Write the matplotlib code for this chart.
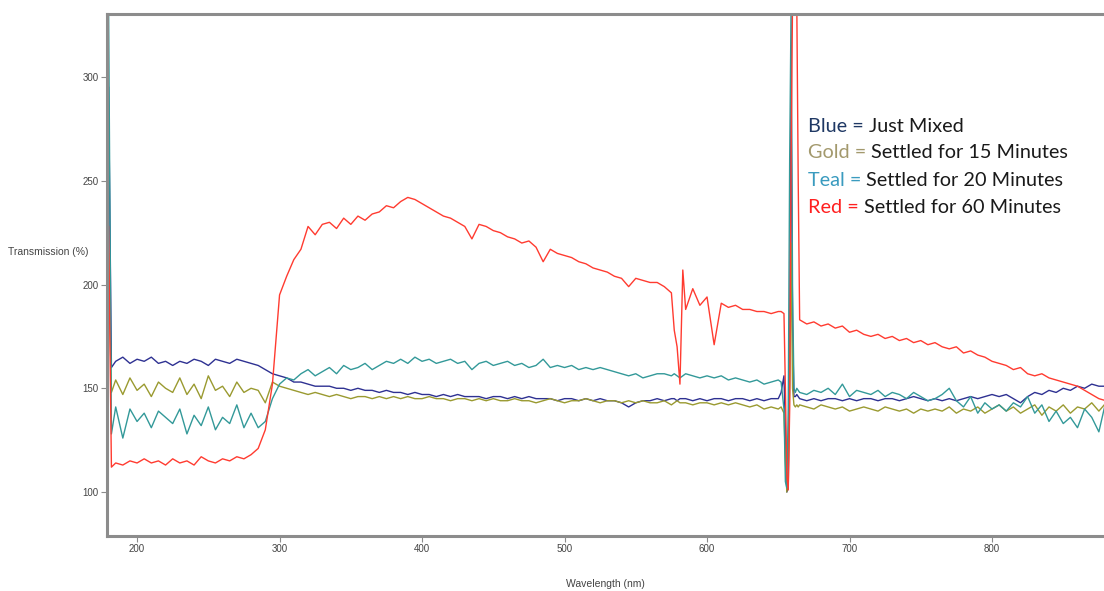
import numpy as np
import matplotlib.pyplot as plt

# wavelength grid (nm): 5 nm steps, finer around the 580 and 656 nm features
wl = np.concatenate([
    [180, 182],
    np.arange(185, 576, 5),
    [577, 579, 581, 583],
    np.arange(585, 651, 5),
    [652, 654, 655, 656, 657, 658, 659, 660, 661, 662, 663, 664],
    np.arange(665, 881, 5),
])

# transmission (%) for each settling time
blue = [
    295, 160,
    163, 165, 162, 164, 163, 165, 162, 163, 161, 163,
    162, 164, 163, 161, 164, 163, 162, 164, 163, 162,
    161, 159, 157, 156, 155, 153, 153, 152, 151, 151,
    151, 150, 150, 149, 150, 149, 149, 148, 149, 148,
    148, 147, 148, 147, 147, 146, 147, 146, 147, 146,
    146, 146, 145, 146, 146, 145, 146, 145, 146, 145,
    145, 145, 144, 145, 145, 144, 145, 144, 145, 144,
    144, 143, 141, 143, 144, 144, 145, 144, 145,
    145, 144, 145, 145,
    145, 144, 145, 144, 145, 145, 144, 145, 145, 144,
    145, 144, 145, 145,
    148, 156, 130, 100, 102, 160, 300, 180, 146, 146, 147, 146,
    145, 144, 145, 144, 145, 145, 144, 145, 144, 145,
    145, 144, 145, 145, 144, 145, 146, 145, 144, 145,
    144, 145, 144, 145, 146, 145, 146, 147, 146, 147,
    145, 143, 146, 148, 147, 149, 148, 150, 149, 151,
    150, 152, 151, 151,
]
gold = [
    215, 148,
    154, 147, 155, 149, 152, 146, 153, 150, 148, 155,
    147, 152, 145, 156, 149, 151, 146, 153, 148, 150,
    149, 143, 153, 151, 150, 149, 148, 147, 148, 147,
    146, 147, 146, 145, 146, 146, 145, 146, 145, 146,
    145, 146, 145, 145, 146, 145, 145, 144, 145, 145,
    144, 145, 144, 145, 144, 144, 145, 144, 144, 143,
    144, 145, 144, 143, 144, 144, 145, 144, 143, 144,
    144, 143, 144, 143, 144, 143, 143, 144, 142,
    143, 144, 143, 143,
    143, 142, 143, 143, 142, 143, 142, 143, 142, 141,
    142, 140, 141, 140,
    141, 138, 115, 100, 110, 150, 220, 150, 142, 141, 142, 141,
    142, 141, 140, 142, 141, 140, 141, 139, 140, 141,
    140, 139, 141, 140, 139, 140, 138, 140, 139, 140,
    139, 141, 138, 140, 139, 141, 138, 140, 142, 139,
    141, 138, 140, 142, 137, 141, 139, 142, 138, 141,
    140, 143, 139, 143,
]
teal = [
    335, 128,
    141, 126, 140, 134, 138, 131, 139, 136, 133, 140,
    128, 137, 132, 141, 130, 136, 133, 142, 131, 138,
    131, 134, 145, 152, 155, 154, 157, 159, 156, 158,
    160, 157, 161, 159, 160, 162, 159, 161, 163, 162,
    164, 162, 165, 163, 164, 162, 163, 164, 162, 163,
    159, 162, 163, 161, 162, 163, 161, 162, 160, 161,
    164, 160, 161, 160, 161, 159, 160, 159, 160, 159,
    158, 157, 156, 157, 155, 156, 157, 157, 156,
    157, 156, 155, 156,
    157, 156, 155, 156, 155, 156, 154, 155, 154, 153,
    154, 152, 153, 154,
    153, 140, 105, 102, 140, 260, 335, 200, 150, 148, 150, 149,
    148, 147, 149, 148, 150, 147, 152, 146, 149, 148,
    147, 149, 146, 148, 147, 145, 148, 146, 144, 145,
    147, 150, 144, 141, 146, 138, 143, 140, 142, 139,
    143, 141, 146, 138, 142, 134, 139, 133, 136, 131,
    140, 136, 129, 144,
]
red = [
    228, 112,
    114, 113, 115, 114, 116, 114, 115, 113, 116, 114,
    115, 113, 117, 115, 114, 116, 115, 117, 116, 118,
    121, 130, 152, 195, 204, 212, 217, 228, 224, 229,
    230, 227, 232, 229, 233, 231, 234, 235, 238, 237,
    240, 242, 241, 239, 237, 235, 233, 232, 230, 228,
    222, 229, 228, 226, 225, 223, 222, 220, 221, 218,
    211, 217, 215, 214, 213, 211, 210, 208, 207, 206,
    204, 203, 199, 203, 202, 201, 201, 199, 196,
    178, 170, 152, 207,
    188, 198, 190, 194, 171, 191, 189, 190, 188, 188,
    187, 187, 186, 187,
    187, 186, 150, 108, 101, 140, 260, 335, 335, 335, 335, 250,
    183, 181, 182, 180, 181, 179, 180, 177, 178, 176,
    175, 176, 174, 175, 173, 174, 172, 173, 171, 172,
    170, 169, 170, 167, 168, 166, 165, 163, 162, 161,
    159, 160, 157, 156, 157, 155, 154, 153, 152, 151,
    149, 147, 145, 144,
]

series = [
    (blue, "#2e3192"),
    (gold, "#9a9a30"),
    (teal, "#339999"),
    (red, "#ff3b30"),
]

legend_lines = [
    ("Blue = ", "#1f3864", "Just Mixed"),
    ("Gold = ", "#a3996d", "Settled for 15 Minutes"),
    ("Teal = ", "#3a9bbf", "Settled for 20 Minutes"),
    ("Red = ", "#ff2020", "Settled for 60 Minutes"),
]

GRIS = "#8c8c8c"
TEXTO = "#444444"

fig = plt.figure(figsize=(11.04, 5.91), dpi=100)
ax = fig.add_axes([107 / 1104, 1 - 536 / 591, 997 / 1104, 522 / 591])

for valores, color in series:
    ax.plot(wl, valores, color=color, linewidth=1.0)

ax.set_xlim(178.9, 878.6)
ax.set_ylim(78.8, 330.4)
ax.set_xticks([200, 300, 400, 500, 600, 700, 800])
ax.set_yticks([100, 150, 200, 250, 300])

for lado in ["left", "bottom", "top"]:
    ax.spines[lado].set_color(GRIS)
    ax.spines[lado].set_linewidth(2.2)
ax.spines["right"].set_visible(False)
ax.tick_params(direction="out", length=4, width=0.8, color=GRIS,
               labelsize=7, labelcolor=TEXTO, pad=2)
for lbl in ax.get_xticklabels() + ax.get_yticklabels():
    lbl.set_family("Liberation Sans")

ax.set_xlabel("Wavelength (nm)", fontsize=7.5, color=TEXTO,
              family="Liberation Sans", labelpad=18)
fig.text(8 / 1104, 1 - 252 / 591, "Transmission (%)", fontsize=7.5,
         color=TEXTO, family="Liberation Sans", ha="left", va="center")

# coloured key written as text next to the peak
y0 = 126
for i, (prefijo, color, resto) in enumerate(legend_lines):
    t = fig.text(808 / 1104, 1 - (y0 + 27 * i) / 591, prefijo, color=color,
                 fontsize=14.3, family="Lato", ha="left", va="center")
    ax.annotate(resto, xy=(1, 0), xycoords=t, color="#1a1a1a",
                fontsize=14.3, family="Lato", ha="left", va="bottom")

fig.savefig("out.png", dpi=100)
